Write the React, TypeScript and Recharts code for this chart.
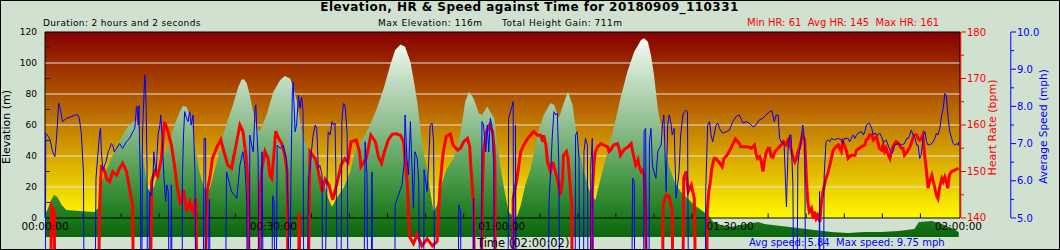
import { ComposedChart, Area, Line, XAxis, YAxis, ReferenceArea, ReferenceLine } from 'recharts';

// Elevation, heart rate and speed over a 2h ride (time in minutes)

const FONT = '"DejaVu Sans", sans-serif';
const HR_RED = '#ff0000';
const SPEED_BLUE = '#0000ff';

// [minutes, metres]
const elevation: [number, number][] = [
  [0, 3.2], [0.3, 5], [0.8, 11.6], [1.2, 15], [1.6, 13.5], [2.2, 8.4], [2.8, 5.2], [4.5, 4.5], [6.5, 3.9],
  [7.0, 6.5], [7.4, 23], [8.0, 30], [8.7, 38.5], [9.4, 45], [10.2, 53.5], [10.9, 59], [11.55, 62], [12.0, 63],
  [12.4, 55.7], [12.9, 38.5], [13.5, 19], [14.0, 17], [14.4, 21.3], [15.1, 34], [15.7, 40.6], [16.4, 49],
  [17.0, 60], [17.7, 68.6], [18.1, 72.3], [18.6, 71.8], [19.0, 66.5], [19.45, 55.7], [19.9, 40.6], [20.3, 30],
  [20.8, 21.3], [21.2, 17], [21.65, 19], [22.1, 27.7], [22.7, 38.5], [23.4, 53.5], [24.1, 64.3], [24.7, 73],
  [25.4, 84.7], [25.8, 89], [26.1, 89.7], [26.5, 86.9], [26.9, 79.4], [27.35, 68.6], [27.8, 57.9], [28.2, 55.7],
  [29.1, 66.5], [30.0, 81.5], [30.9, 89], [31.5, 91.6], [32.2, 90], [32.6, 84.7], [33.1, 75], [33.5, 62],
  [33.9, 51.4], [34.8, 42.8], [35.7, 34.2], [36.6, 23.4], [37.2, 12.7], [37.7, 7.3], [38.3, 12.7], [39.2, 19.2],
  [40.1, 29.9], [40.7, 42.8], [41.8, 51.4], [42.7, 60], [43.6, 70.8], [44.5, 83.7], [45.35, 98.7], [46.0, 108.4],
  [46.7, 112], [47.3, 110.5], [48.0, 100.8], [48.4, 90], [48.9, 75], [49.3, 57.9], [49.7, 42.8], [50.2, 32],
  [50.6, 17], [51.05, 4], [51.5, 8.4], [52.2, 23.4], [52.8, 32], [53.7, 38.5], [54.6, 55.7], [55.2, 75],
  [55.7, 81.5], [56.3, 77.2], [57.0, 67.5], [57.4, 66.5], [58.1, 72], [59.0, 64.3], [59.4, 49.2], [59.8, 34.2],
  [60.3, 19.2], [60.9, 4], [61.6, 0.2], [62.0, 0.9], [62.5, 8.4], [63.1, 21.3], [63.8, 32], [64.7, 53.5],
  [65.5, 66.5], [66.4, 74], [66.9, 72.9], [67.5, 64.3], [68.2, 75], [68.7, 81.5], [69.3, 72.9], [69.9, 51.4],
  [70.8, 29.9], [71.7, 14.8], [72.3, 11.6], [73.0, 25.6], [73.9, 42.8], [74.8, 60], [75.6, 77.2], [76.5, 94.4],
  [77.4, 107.3], [78.3, 114.8], [78.7, 116], [79.2, 113.7], [79.6, 105.2], [80.0, 92.3], [80.5, 70.8],
  [81.1, 53.5], [81.8, 36.3], [82.7, 23.4], [83.5, 17], [84.4, 12.7], [85.3, 8.4], [86.2, 5.2], [87.1, 1.9],
  [87.8, -2.6], [88.8, -4.5], [90.1, -5.8], [92.1, -3.9], [93.7, -2.6], [94.5, -3.9], [96.7, -5.2], [98.9, -6.5],
  [101.1, -7.7], [103.3, -9], [105.5, -9.7], [107.6, -9], [109.9, -9], [112.1, -8.4], [114.2, -7.1],
  [114.8, -2.6], [116.5, -1.9], [117.8, -3.9], [119.1, -6.5], [120.03, -9],
];

// [minutes, bpm]; dropouts read as 100 (off the bottom of the plot)
const heartRate: [number, number][] = [
  [0, 100], [0.6, 100], [0.85, 142.5], [1.2, 141.5], [1.5, 100], [6.8, 100], [7.2, 143.9], [7.4, 151], [7.7, 150.7],
  [8.1, 148.5], [8.5, 147.8], [8.9, 150], [9.4, 149.2], [9.8, 150.7], [10.2, 151.8], [10.7, 150], [11.1, 146.4],
  [11.5, 142.8], [11.8, 100], [13.7, 100], [14.0, 147.8], [14.4, 150], [14.8, 149], [15.3, 152.8], [15.7, 160.7],
  [16.1, 158.9], [16.6, 155.7], [17.0, 151.4], [17.4, 146.4], [17.8, 142.8], [18.2, 146], [18.6, 141.4], [19.0, 143.5],
  [19.4, 141.4], [19.8, 144.2], [20.2, 100], [20.7, 100], [21.3, 145.7], [21.7, 149.2], [22.0, 152.8], [22.6, 155.3],
  [23.1, 156.8], [23.5, 154.3], [24.0, 151.4], [24.5, 150.7], [25.1, 155.7], [25.6, 160], [26.0, 158.6], [26.4, 153.5],
  [26.7, 147.1], [26.9, 100], [28.0, 100], [28.2, 145], [28.5, 150.7], [28.9, 154.3], [29.3, 152.8], [29.55, 149.2],
  [29.8, 148.5], [30.1, 154.3], [30.3, 158.7], [30.7, 157.1], [31.1, 156], [31.5, 153.5], [31.8, 150], [32.05, 100],
  [33.1, 100], [33.4, 141], [33.6, 100], [34.4, 100], [34.8, 154.3], [35.5, 152.8], [35.9, 150], [36.4, 145.7],
  [36.8, 148.3], [37.3, 147.1], [37.8, 143.9], [38.4, 147.8], [38.9, 151.4], [39.4, 152.8], [39.8, 152], [40.2, 156.4],
  [40.9, 156.8], [41.3, 154.3], [41.5, 151], [42.2, 152.8], [42.8, 157.8], [43.4, 156.4], [43.8, 153.2], [44.2, 151.8],
  [44.6, 154.3], [45.1, 156.8], [45.6, 158], [46.1, 158.1], [46.7, 157.8], [47.1, 156.4], [47.3, 152.8], [47.6, 147.1],
  [47.9, 136], [48.4, 134.5], [48.9, 136.5], [49.5, 134], [50.2, 135.5], [50.9, 134], [51.5, 135], [51.9, 147.1],
  [52.3, 154], [52.7, 157.5], [53.25, 158.1], [53.6, 155.7], [54.2, 154.6], [54.6, 155], [55.0, 156.4], [55.5, 157.1],
  [55.8, 155.3], [55.9, 152], [56.3, 142.8], [56.6, 100], [57.2, 100], [57.4, 140.8], [57.6, 154], [58.0, 158.6],
  [58.4, 160], [58.8, 158.6], [59.0, 155], [59.1, 152], [59.2, 100], [61.4, 100], [61.5, 144.2], [62.0, 148.5],
  [62.5, 154.3], [62.9, 155.7], [63.4, 157.1], [63.8, 157.8], [64.2, 158.6], [64.7, 157.8], [65.1, 157.8], [65.4, 156.4],
  [65.5, 157.8], [65.8, 155.7], [66.0, 152.1], [66.4, 150], [66.7, 152.1], [66.8, 151.4], [67.3, 148.5], [67.7, 145],
  [68.0, 148.5], [68.1, 153.5], [68.5, 154.3], [68.7, 152.8], [68.9, 148.5], [69.2, 142.8], [69.3, 100], [71.8, 100],
  [71.9, 145.7], [72.1, 151.4], [72.3, 154.3], [72.6, 155.3], [73.0, 156], [73.4, 155.7], [73.9, 155.3], [74.1, 154.3],
  [74.3, 154.6], [74.7, 155.7], [75.2, 156], [75.4, 155], [75.6, 153.5], [76.0, 154.6], [76.6, 155.3], [77.0, 156],
  [77.2, 154.3], [77.4, 152.8], [77.6, 151.4], [77.9, 152.5], [78.0, 151.4], [78.3, 150], [78.5, 150.3], [78.7, 149.2],
  [78.9, 141.4], [79.2, 100], [81.0, 100], [81.2, 142.8], [81.6, 145], [82.0, 144.6], [82.4, 141.4], [82.6, 100],
  [83.7, 100], [83.9, 148.5], [84.2, 150], [84.5, 145.7], [84.9, 147.1], [85.3, 144.2], [85.7, 100], [86.8, 100],
  [87.0, 141.4], [87.2, 145.7], [87.4, 147.8], [87.6, 150.7], [87.9, 152.8], [88.1, 152.8], [88.5, 152.1], [88.95, 151],
  [89.2, 152.8], [89.6, 153.5], [90.1, 155], [90.5, 156.4], [90.7, 157], [91.2, 156.05], [91.4, 155.3], [92.3, 155.3],
  [92.8, 155], [93.2, 155.7], [93.4, 153.9], [93.6, 152.8], [93.9, 153.2], [94.1, 152.1], [94.3, 150], [94.5, 152.1],
  [94.7, 153.9], [95.0, 155], [95.2, 155], [95.4, 153.2], [95.6, 153], [95.9, 154.3], [96.3, 155], [96.7, 155.7],
  [97.0, 156.4], [97.4, 155.7], [97.6, 156.8], [97.8, 157.1], [98.0, 155], [98.2, 153.5], [98.5, 152.1], [98.7, 152.8],
  [98.9, 154.3], [99.1, 155], [99.3, 156.4], [99.5, 157.85], [99.8, 156.8], [100.0, 149.2], [100.2, 143.5],
  [100.4, 141.4], [100.7, 142.1], [100.9, 139.9], [101.1, 141.4], [101.3, 139.9], [101.5, 140.6], [101.8, 139.2],
  [102.0, 143.5], [102.2, 145.7], [102.4, 147.1], [102.6, 148.5], [102.9, 150], [103.1, 151.4], [103.3, 152.8],
  [103.5, 154.3], [103.7, 155], [104.2, 155.7], [104.4, 155], [104.6, 154.3], [104.8, 156.4], [105.0, 155.7],
  [105.3, 154.3], [105.5, 152.8], [105.9, 153.5], [106.4, 153.5], [106.6, 154.6], [107.0, 155], [107.2, 155.3],
  [107.7, 155.7], [107.9, 156.8], [108.1, 157.1], [108.3, 157.85], [108.6, 157.85], [108.8, 156.8], [109.0, 157.1],
  [109.2, 157.5], [109.4, 156.4], [109.6, 155], [109.9, 154.6], [110.1, 155.7], [110.3, 154.3], [110.5, 155],
  [110.7, 153.9], [111.0, 152.8], [111.2, 154.3], [111.4, 155.3], [111.6, 156.05], [111.8, 156.4], [112.1, 156.05],
  [112.5, 155], [112.7, 155], [112.9, 153.5], [113.1, 153.9], [113.4, 154.6], [113.6, 155.3], [113.8, 156.05],
  [114.0, 157.1], [114.2, 157.85], [114.5, 157.85], [114.7, 157.1], [114.9, 156.8], [115.1, 157.1], [115.3, 157.85],
  [115.6, 152.8], [115.8, 150], [116.0, 146.4], [116.2, 147.8], [116.5, 149.2], [116.7, 147.8], [116.9, 146.4],
  [117.1, 144.9], [117.3, 144.2], [117.5, 146.4], [117.8, 148.5], [118.0, 147.8], [118.2, 148.8], [118.4, 147.8],
  [118.6, 146.4], [118.8, 149.2], [119.1, 150], [119.5, 150.3], [120.0, 150.7],
];

// [minutes, mph]; stops read as 0
const speed: [number, number][] = [
  [0, 0], [0.1, 7.28], [0.45, 7.19], [0.67, 7.1], [1.0, 6.78], [1.3, 6.65], [1.5, 7.1], [1.8, 8.08], [2.0, 7.95],
  [2.3, 7.59], [2.8, 7.68], [3.4, 7.72], [4.0, 7.77], [4.3, 7.77], [4.5, 7.68], [4.75, 7.32], [4.9, 6.8], [5.05, 6.24],
  [5.2, 0], [6.5, 0], [6.7, 6.07], [6.9, 6.6], [7.2, 7.32], [7.3, 7.41], [7.4, 6.78], [7.6, 6.3], [8.0, 6.5],
  [8.3, 6.78], [8.5, 6.87], [8.7, 7.0], [8.9, 6.96], [9.1, 6.78], [9.4, 6.87], [9.8, 7.0], [10.2, 6.87], [10.7, 7.05],
  [11.1, 7.14], [11.55, 7.32], [11.8, 7.41], [12.0, 7.95], [12.1, 8.0], [12.25, 7.5], [12.35, 8.02], [12.4, 7.23],
  [12.55, 5.89], [12.65, 0], [12.8, 7.23], [13.1, 8.84], [13.2, 8.6], [13.3, 7.86], [13.4, 6.42], [13.5, 0],
  [13.75, 5.71], [14.0, 5.6], [14.2, 6.24], [14.3, 6.78], [14.45, 6.42], [14.6, 6.24], [14.85, 7.23], [15.1, 7.5],
  [15.2, 7.77], [15.3, 7.5], [15.5, 6.69], [15.6, 6.16], [15.85, 5.45], [16.0, 5.89], [16.2, 5.71], [16.4, 0],
  [16.6, 5.89], [16.8, 0], [18.0, 0], [18.05, 6.07], [18.2, 7.23], [18.35, 7.86], [18.6, 7.68], [18.8, 7.59],
  [19.0, 7.86], [19.2, 7.5], [19.45, 7.77], [19.7, 6.24], [19.9, 0], [20.7, 0], [20.9, 7.14], [21.1, 7.14], [21.2, 0],
  [21.6, 5.5], [21.8, 0], [23.6, 0], [23.85, 6.24], [24.5, 5.71], [25.2, 5.53], [25.6, 6.42], [26.0, 6.78],
  [26.25, 6.42], [26.5, 5.45], [26.65, 0], [26.85, 0], [26.9, 7.23], [27.15, 6.96], [27.35, 6.78], [27.6, 7.95],
  [27.7, 8.04], [27.8, 7.5], [28.0, 6.6], [28.2, 0], [28.4, 0], [28.5, 6.78], [28.8, 0], [29.7, 0], [29.9, 5.6],
  [30.1, 5.4], [30.3, 0], [30.5, 6.96], [30.9, 6.87], [31.3, 6.96], [31.5, 6.78], [31.75, 6.5], [31.95, 5.17],
  [32.1, 0], [32.3, 6.0], [32.5, 8.43], [32.6, 8.66], [32.85, 7.32], [33.05, 7.5], [33.3, 8.3], [33.5, 7.95],
  [33.7, 8.25], [33.9, 7.86], [34.05, 0], [34.4, 0], [34.6, 6.07], [34.8, 6.3], [35.0, 6.78], [35.2, 7.2], [35.5, 7.5],
  [35.7, 7.41], [35.9, 6.33], [36.1, 6.42], [36.4, 6.16], [36.5, 0], [37.0, 5.6], [37.2, 7.32], [37.45, 7.23],
  [37.7, 7.59], [37.9, 7.5], [38.1, 7.55], [38.3, 5.17], [38.5, 0], [38.8, 0], [39.0, 7.59], [39.2, 8.07], [39.4, 8.04],
  [39.55, 7.68], [39.7, 7.23], [39.85, 0], [41.8, 0], [42.05, 7.05], [42.3, 6.16], [42.45, 0], [42.8, 0],
  [42.95, 6.24], [43.1, 0], [45.9, 0], [46.0, 5.35], [46.4, 5.6], [46.9, 5.89], [47.2, 6.5], [47.3, 7.77],
  [47.55, 6.6], [47.75, 6.16], [48.0, 7.59], [48.2, 6.42], [48.4, 5.26], [48.6, 6.78], [48.9, 6.6], [49.1, 5.98],
  [49.3, 0], [49.7, 0], [49.8, 6.3], [50.2, 5.71], [50.4, 6.5], [50.6, 7.5], [50.85, 7.55], [51.05, 7.05], [51.3, 0],
  [54.2, 0], [54.35, 5.35], [54.6, 5.17], [54.7, 0], [56.2, 0], [56.3, 5.53], [56.55, 0], [57.3, 0], [57.4, 7.59],
  [57.6, 7.5], [57.9, 6.78], [58.1, 7.5], [58.3, 6.78], [58.5, 7.68], [58.7, 7.5], [58.95, 6.42], [59.1, 0], [60.8, 0],
  [60.9, 7.68], [61.15, 7.86], [61.4, 8.04], [61.5, 8.13], [61.6, 0], [61.75, 0], [61.8, 7.5], [61.95, 0], [66.1, 0],
  [66.2, 5.35], [66.4, 6.16], [66.65, 7.23], [66.85, 7.86], [67.1, 7.77], [67.3, 7.82], [67.5, 6.42], [67.7, 0],
  [69.6, 0], [69.7, 7.23], [69.9, 7.32], [70.15, 6.6], [70.3, 0], [70.7, 0], [70.8, 6.78], [71.0, 7.14], [71.25, 6.96],
  [71.4, 0], [71.6, 0], [71.7, 6.42], [71.9, 7.14], [72.1, 0], [76.95, 0], [77.2, 6.07], [77.4, 5.98], [77.55, 0],
  [78.6, 0], [78.7, 7.32], [78.9, 7.41], [79.1, 0], [79.3, 0], [79.4, 7.05], [79.6, 7.41], [79.8, 6.42], [80.0, 6.24],
  [80.25, 6.07], [80.5, 6.78], [80.7, 6.87], [80.95, 6.96], [81.1, 7.5], [81.3, 7.77], [81.6, 5.71], [81.8, 7.5],
  [82.0, 7.77], [82.2, 7.59], [82.4, 7.23], [82.65, 7.41], [82.9, 5.53], [83.1, 5.89], [83.3, 6.24], [83.5, 7.23],
  [83.8, 7.77], [84.0, 7.86], [84.2, 7.9], [84.4, 7.86], [84.6, 0], [86.7, 0], [86.8, 5.71], [87.05, 7.5],
  [87.3, 7.59], [87.5, 7.23], [87.7, 7.05], [87.9, 7.23], [88.15, 7.5], [88.4, 7.55], [88.6, 7.41], [89.0, 7.28],
  [89.5, 7.32], [89.9, 7.36], [90.35, 7.59], [90.8, 7.73], [91.2, 7.77], [91.7, 7.55], [92.1, 7.59], [92.5, 7.55],
  [93.0, 7.45], [93.4, 7.5], [93.85, 7.64], [94.3, 7.68], [94.7, 7.77], [95.2, 7.86], [95.5, 7.88], [95.8, 7.59],
  [96.05, 7.77], [96.3, 7.77], [96.5, 7.14], [96.7, 7.05], [96.9, 7.05], [97.1, 6.96], [97.4, 5.3], [97.6, 6.78],
  [97.8, 7.23], [98.0, 7.23], [98.25, 5.89], [98.45, 0], [98.7, 0], [98.9, 6.42], [99.1, 6.78], [99.3, 7.05],
  [99.55, 7.5], [99.8, 7.05], [100.0, 0], [101.6, 0], [101.75, 5.71], [101.9, 0], [102.2, 0], [102.35, 6.1],
  [102.6, 7.05], [102.85, 7.1], [103.1, 7.05], [103.3, 7.14], [103.7, 7.1], [104.2, 7.14], [104.6, 7.1], [104.8, 7.0],
  [105.0, 7.14], [105.5, 7.14], [105.7, 7.05], [105.9, 7.14], [106.15, 7.23], [106.4, 7.14], [106.6, 7.23],
  [106.8, 7.28], [107.3, 7.32], [107.5, 7.23], [107.7, 7.32], [107.9, 7.5], [108.3, 7.55], [108.6, 7.41],
  [108.8, 7.23], [109.0, 7.28], [109.4, 7.23], [109.65, 7.28], [109.9, 7.19], [110.1, 7.05], [110.3, 7.05],
  [110.5, 7.1], [110.75, 6.96], [111.2, 6.74], [111.4, 6.78], [111.6, 6.96], [112.1, 7.0], [112.5, 6.96], [112.9, 7.0],
  [113.2, 7.14], [113.4, 7.14], [113.6, 7.23], [113.8, 7.36], [114.05, 7.23], [114.3, 7.14], [114.5, 6.96],
  [114.7, 6.96], [114.9, 6.6], [115.1, 6.69], [115.4, 7.23], [115.6, 7.32], [115.8, 7.05], [116.0, 6.96], [116.5, 7.0],
  [116.9, 7.14], [117.1, 7.28], [117.3, 7.23], [117.55, 7.41], [117.8, 7.77], [118.0, 7.95], [118.2, 8.35],
  [118.4, 8.3], [118.65, 7.68], [118.85, 7.32], [119.1, 7.14], [119.3, 7.0], [119.5, 6.96], [119.8, 7.0],
  [120.0, 6.96], [120.03, 7.05],
];

const timeTicks = [0, 30, 60, 90, 120];
const minorTimeTicks = [5, 10, 15, 20, 25, 35, 40, 45, 50, 55, 65, 70, 75, 80, 85, 95, 100, 105, 110, 115];
const elevTicks = [0, 10, 20, 30, 40, 50, 60, 70, 80, 90, 100, 110, 120];
const gridLevels = [20, 40, 60, 80, 100];
const hrTicks = [140, 145, 150, 155, 160, 165, 170, 175, 180];
const speedTicks = [5, 5.5, 6, 6.5, 7, 7.5, 8, 8.5, 9, 9.5, 10];

const toRows = (pairs: [number, number][]) => pairs.map(([t, v]) => ({ t, v }));
const elevRows = toRows(elevation);
const hrRows = toRows(heartRate);
const speedRows = toRows(speed);

const X_MAX = 120.2;

const fmtTime = (m: number) => {
  const h = Math.floor(m / 60);
  const mm = Math.round(m % 60);
  return `${String(h).padStart(2, '0')}:${String(mm).padStart(2, '0')}:00`;
};

const TimeTick = ({ x, y, payload }: any) => (
  <text x={x} y={y} dy="0.35em" textAnchor="middle" fontSize={10.5} fontFamily={FONT} fill="#000">
    {fmtTime(payload.value)}
  </text>
);

const ElevTick = ({ x, y, payload }: any) => {
  if (payload.value % 20 !== 0) {
    return <line x1={x + 8} x2={x + 13} y1={y} y2={y} stroke="#222" />;
  }
  return (
    <text x={x} y={y} dy="0.35em" textAnchor="end" fontSize={9} fontFamily={FONT} fill="#000">
      {payload.value}
    </text>
  );
};

const HrTick = ({ x, y, payload }: any) => {
  const major = payload.value % 10 === 0;
  return (
    <g>
      <line x1={x + 1} x2={x + (major ? 6 : 4)} y1={y} y2={y} stroke={HR_RED} />
      {major && (
        <text x={x + 7} y={y} dy="0.35em" fontSize={10} fontFamily={FONT} fill={HR_RED}>
          {payload.value}
        </text>
      )}
    </g>
  );
};

const SpeedTick = ({ x, y, payload }: any) => {
  const major = Number.isInteger(payload.value);
  return (
    <g>
      <line x1={x + 1} x2={x + (major ? 6 : 4)} y1={y} y2={y} stroke={SPEED_BLUE} />
      {major && (
        <text x={x + 7} y={y} dy="0.35em" fontSize={10} fontFamily={FONT} fill={SPEED_BLUE}>
          {payload.value.toFixed(1)}
        </text>
      )}
    </g>
  );
};

export default function App() {
  return (
    <div style={{ position: 'absolute', left: 0, top: 0, width: 1060, height: 250, background: '#d0e1d0', overflow: 'hidden' }}>
      <ComposedChart width={1060} height={250} margin={{ top: 32, right: 0, bottom: 0, left: 0 }}>
        <defs>
          <linearGradient id="bgGrad" x1="0" y1="0" x2="0" y2="1">
            <stop offset="0%" stopColor="#860000" />
            <stop offset="100%" stopColor="#fff800" />
          </linearGradient>
          <linearGradient id="elevGrad" x1="0" y1="0" x2="0" y2="1">
            <stop offset="0%" stopColor="#f8fcf8" />
            <stop offset="20%" stopColor="#c4dec4" />
            <stop offset="45%" stopColor="#8cbc8c" />
            <stop offset="70%" stopColor="#4a9a4a" />
            <stop offset="90%" stopColor="#1c7a1c" />
            <stop offset="100%" stopColor="#0c640c" />
          </linearGradient>
        </defs>

        <XAxis
          type="number"
          dataKey="t"
          scale="linear"
          domain={[0, X_MAX]}
          allowDataOverflow
          ticks={timeTicks}
          interval={0}
          mirror
          height={30}
          tickSize={0}
          tickMargin={24}
          axisLine={false}
          tickLine={false}
          tick={TimeTick}
        />
        <YAxis
          yAxisId="elev"
          type="number"
          scale="linear"
          domain={[-20.645, 120]}
          allowDataOverflow
          ticks={elevTicks}
          interval={0}
          width={45}
          tickSize={0}
          tickMargin={8}
          axisLine={false}
          tickLine={false}
          tick={ElevTick}
        />
        <YAxis
          yAxisId="hr"
          orientation="right"
          type="number"
          scale="linear"
          domain={[133.118, 180]}
          allowDataOverflow
          ticks={hrTicks}
          interval={0}
          width={50}
          tickSize={0}
          tickMargin={0}
          axisLine={false}
          tickLine={false}
          tick={HrTick}
        />
        <YAxis
          yAxisId="spd"
          orientation="right"
          type="number"
          scale="linear"
          domain={[4.1398, 10]}
          allowDataOverflow
          ticks={speedTicks}
          interval={0}
          width={50}
          tickSize={0}
          tickMargin={0}
          axisLine={false}
          tickLine={false}
          tick={SpeedTick}
        />

        {/* plot background */}
        <ReferenceArea yAxisId="elev" x1={0} x2={X_MAX} y1={0} y2={120} fill="url(#bgGrad)" fillOpacity={1} stroke="none" zIndex={10} />
        {gridLevels.map((g) => (
          <ReferenceLine key={`g${g}`} yAxisId="elev" y={g} stroke="#e4e4e4" strokeWidth={1} zIndex={20} />
        ))}

        <Area
          yAxisId="elev"
          data={elevRows}
          dataKey="v"
          type="linear"
          baseValue={-12.3}
          stroke="none"
          fill="url(#elevGrad)"
          fillOpacity={1}
          isAnimationActive={false}
          zIndex={30}
        />

        {/* frame + ticks */}
        <ReferenceArea yAxisId="elev" x1={0} x2={X_MAX} y1={0} y2={120} fill="none" fillOpacity={0} stroke="#000" strokeWidth={1} zIndex={40} />
        {minorTimeTicks.map((t) => (
          <ReferenceLine key={`m${t}`} yAxisId="elev" segment={[{ x: t, y: 0 }, { x: t, y: 3 }]} stroke="#111" zIndex={45} />
        ))}
        <ReferenceLine yAxisId="hr" segment={[{ x: 120.3, y: 140 }, { x: 120.3, y: 180 }]} stroke={HR_RED} ifOverflow="visible" zIndex={45} />
        <ReferenceLine yAxisId="spd" segment={[{ x: 126.87, y: 5 }, { x: 126.87, y: 10 }]} stroke={SPEED_BLUE} ifOverflow="visible" zIndex={45} />

        <Line
          yAxisId="hr"
          data={hrRows}
          dataKey="v"
          type="linear"
          stroke={HR_RED}
          strokeWidth={3}
          dot={false}
          isAnimationActive={false}
          zIndex={50}
        />
        <Line
          yAxisId="spd"
          data={speedRows}
          dataKey="v"
          type="linear"
          stroke={SPEED_BLUE}
          strokeWidth={1}
          dot={false}
          isAnimationActive={false}
          zIndex={60}
        />
      </ComposedChart>

      <svg width={1060} height={250} style={{ position: 'absolute', left: 0, top: 0, pointerEvents: 'none' }} fontFamily={FONT}>
        <text x={529.5} y={11} textAnchor="middle" fontSize={12} fontWeight="bold" letterSpacing={0.45} fill="#000">
          Elevation, HR &amp; Speed against Time for 20180909_110331
        </text>
        <text x={43} y={26} fontSize={9} letterSpacing={0.35} fill="#000">Duration: 2 hours and 2 seconds</text>
        <text x={378} y={26} fontSize={9} letterSpacing={0.5} fill="#000">Max Elevation: 116m</text>
        <text x={502} y={26} fontSize={9} letterSpacing={0.5} fill="#000">Total Height Gain: 711m</text>
        <text x={747} y={26} fontSize={10} fill={HR_RED} style={{ whiteSpace: 'pre' }}>
          {'Min HR: 61  Avg HR: 145  Max HR: 161'}
        </text>

        <text transform="translate(6.5,127) rotate(-90)" textAnchor="middle" dy="0.35em" fontSize={11} fill="#000">
          Elevation (m)
        </text>
        <text transform="translate(992.5,127.5) rotate(-90)" textAnchor="middle" dy="0.35em" fontSize={11} fill={HR_RED}>
          Heart Rate (bpm)
        </text>
        <text transform="translate(1043,126.5) rotate(-90)" textAnchor="middle" dy="0.35em" fontSize={10.5} fill={SPEED_BLUE}>
          Average Speed (mph)
        </text>

        <text x={477} y={246.5} fontSize={11.5} fill="#000">Time (02:00:02)</text>
        <text x={749} y={246} fontSize={10} fill={SPEED_BLUE} style={{ whiteSpace: 'pre' }}>
          {'Avg speed: 5.84  Max speed: 9.75 mph'}
        </text>
      </svg>
      <div style={{ position: 'absolute', left: 0, top: 0, width: 1060, height: 250, border: '1px solid #000', boxSizing: 'border-box', pointerEvents: 'none' }} />
    </div>
  );
}
